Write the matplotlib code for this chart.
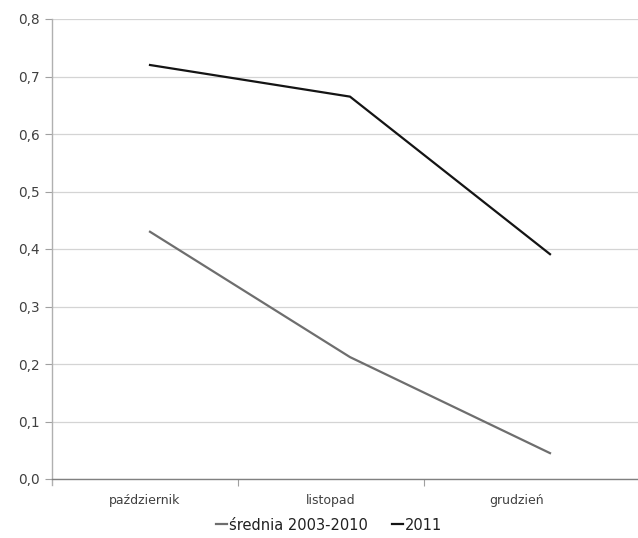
import numpy as np
import matplotlib
matplotlib.use("Agg")
import matplotlib.pyplot as plt
from matplotlib.ticker import FuncFormatter, FixedLocator

months = ["październik", "listopad", "grudzień"]
avg_2003_2010 = [0.43, 0.212, 0.045]
year_2011 = [0.72, 0.665, 0.391]
series_labels = ["średnia 2003-2010", "2011"]
y_ticks = [0.0, 0.1, 0.2, 0.3, 0.4, 0.5, 0.6, 0.7, 0.8]

plt.rcParams['font.family'] = ['DejaVu Sans']

fig = plt.figure(figsize=(6.38, 5.38), dpi=100)
ax = fig.add_axes([52 / 638, 1 - 479 / 538, 1 - 52 / 638, (479 - 19) / 538])

x = np.arange(len(months))
ax.plot(x, avg_2003_2010, color="#6e6e6e", lw=1.6, label=series_labels[0],
        solid_joinstyle="miter")
ax.plot(x, year_2011, color="#141414", lw=1.6, label=series_labels[1],
        solid_joinstyle="miter")

ax.set_xlim(-0.49, 2.44)
ax.set_ylim(0, 0.8)

# category band layout for the axis labels
band = 0.93
start = -0.49
centers = start + band * (x + 0.5)
bounds = start + band * np.arange(1, len(months))
ax.set_xticks(centers)
ax.set_xticklabels(months, fontsize=9, color="#404040")
ax.tick_params(axis="x", which="major", length=0, pad=11)
ax.xaxis.set_minor_locator(FixedLocator(bounds))
ax.tick_params(axis="x", which="minor", length=5, direction="out",
               color="#a0a0a0", width=0.8)

ax.set_yticks(y_ticks)
ax.yaxis.set_major_formatter(FuncFormatter(lambda v, p: f"{v:.1f}".replace(".", ",")))
ax.tick_params(axis="y", length=5, color="#a0a0a0", width=0.8,
               labelsize=9.8, labelcolor="#404040", pad=4)

ax.grid(axis="y", color="#d4d4d4", lw=0.9)
ax.set_axisbelow(True)
for s in ["top", "right"]:
    ax.spines[s].set_visible(False)
ax.spines["left"].set_color("#b0b0b0")
ax.spines["left"].set_linewidth(1.0)
ax.spines["left"].set_bounds(-0.01, 0.8)
ax.spines["bottom"].set_color("#808080")
ax.spines["bottom"].set_linewidth(1.0)

leg = fig.legend(loc="center", bbox_to_anchor=(329 / 638, 1 - 525 / 538),
                 ncol=2, frameon=False, handlelength=0.75, handletextpad=0.1,
                 columnspacing=1.7, prop={"size": 10.5})
for t in leg.get_texts():
    t.set_color("#202020")

fig.savefig("out.png", dpi=100)
